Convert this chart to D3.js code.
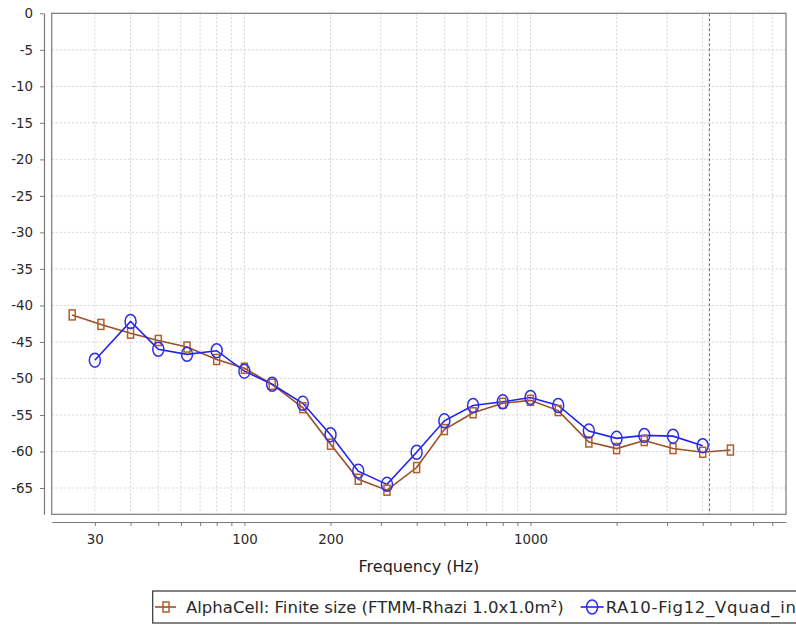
<!DOCTYPE html>
<html>
<head>
<meta charset="utf-8">
<script src="https://cdn.jsdelivr.net/npm/d3@7"></script>
<style>
  html, body { margin: 0; padding: 0; background: #fff; }
  svg { display: block; }
</style>
</head>
<body>
<svg id="chart" width="796" height="625"></svg>
<script>
// ---- data ----
const alphaFreq = [25, 31.5, 40, 50, 63, 80, 100, 125, 160, 200, 250, 315, 400, 500, 630, 800, 1000, 1250, 1600, 2000, 2500, 3150, 4000, 5000];
const alphaVals = [-41.3, -42.6, -43.8, -44.8, -45.7, -47.4, -48.6, -50.8, -54.0, -59.0, -63.8, -65.3, -62.2, -57.0, -54.7, -53.4, -53.0, -54.4, -58.7, -59.6, -58.5, -59.6, -60.1, -59.8];
const raFreq = [30, 40, 50, 63, 80, 100, 125, 160, 200, 250, 315, 400, 500, 630, 800, 1000, 1250, 1600, 2000, 2500, 3150, 4000];
const raVals = [-47.5, -42.2, -46.0, -46.7, -46.2, -49.0, -50.8, -53.4, -57.7, -62.7, -64.5, -60.1, -55.8, -53.7, -53.2, -52.6, -53.7, -57.2, -58.2, -57.8, -57.9, -59.2];
const seriesNames = ["AlphaCell: Finite size (FTMM-Rhazi 1.0x1.0m\u00B2)", "RA10-Fig12_Vquad_in"];
const xTickValues = [30, 40, 50, 60, 70, 80, 90, 100, 200, 300, 400, 500, 600, 700, 800, 900, 1000, 2000, 3000, 4000, 5000, 6000, 7000];
const xTickLabels = [30, 100, 200, 1000];
const yTickValues = [0, -5, -10, -15, -20, -25, -30, -35, -40, -45, -50, -55, -60, -65];
const markerFreq = 4220;
const xTitle = "Frequency (Hz)";

// ---- layout ----
const svg = d3.select("#chart");
const plot = { left: 51.7, right: 786, top: 13.3, bottom: 514.3 };
const x = d3.scaleLog().domain([21.2, 7820]).range([plot.left, plot.right]);
const y = d3.scaleLinear().domain([-68.6, 0]).range([plot.bottom, plot.top]);

const brown = "#9c4f26", brownMark = "#b35e28";
const blue = "#2222f0", blueMark = "#2e2ee6";
const fontFam = "'DejaVu Sans', Verdana, sans-serif";

svg.append("rect").attr("x", plot.left).attr("y", plot.top)
  .attr("width", plot.right - plot.left).attr("height", plot.bottom - plot.top)
  .attr("fill", "#fff");

// grid
const grid = svg.append("g").attr("stroke", "#d2d2d2").attr("stroke-width", 1).attr("stroke-dasharray", "2,2");
grid.selectAll("line.v").data(xTickValues).join("line")
  .attr("x1", d => x(d)).attr("x2", d => x(d)).attr("y1", plot.top).attr("y2", plot.bottom);
grid.selectAll("line.h").data(yTickValues).join("line")
  .attr("x1", plot.left).attr("x2", plot.right).attr("y1", d => y(d)).attr("y2", d => y(d));

// marker line
svg.append("line").attr("x1", x(markerFreq)).attr("x2", x(markerFreq))
  .attr("y1", plot.top).attr("y2", plot.bottom)
  .attr("stroke", "#5a5ad8").attr("stroke-width", 1).attr("stroke-dasharray", "3,2");

// plot outline
svg.append("rect").attr("x", plot.left).attr("y", plot.top)
  .attr("width", plot.right - plot.left).attr("height", plot.bottom - plot.top)
  .attr("fill", "none").attr("stroke", "#7a7a7a").attr("stroke-width", 1.2);

// axes
const xAxis = d3.axisBottom(x).tickValues(xTickValues)
  .tickFormat(d => xTickLabels.includes(d) ? String(d) : "")
  .tickSize(4).tickSizeOuter(0).tickPadding(8);
const gx = svg.append("g").attr("transform", "translate(0,522)").call(xAxis);
gx.select(".domain").attr("stroke", "#7a7a7a").attr("stroke-width", 1.2);
gx.selectAll(".tick line").attr("stroke", "#7a7a7a");
gx.selectAll("text").attr("font-family", fontFam).attr("font-size", "13.4px").attr("fill", "#2a2a2a");

const yAxis = d3.axisLeft(y).tickValues(yTickValues).tickFormat(d => String(d))
  .tickSize(4).tickSizeOuter(0).tickPadding(7);
const gy = svg.append("g").attr("transform", "translate(44,0)").call(yAxis);
gy.select(".domain").attr("stroke", "#7a7a7a").attr("stroke-width", 1.2);
gy.selectAll(".tick line").attr("stroke", "#7a7a7a");
gy.selectAll("text").attr("font-family", fontFam).attr("font-size", "13.4px").attr("fill", "#2a2a2a");

svg.append("text").attr("x", (plot.left + plot.right) / 2).attr("y", 572)
  .attr("text-anchor", "middle").attr("font-family", fontFam).attr("font-size", "16px")
  .attr("fill", "#222").text(xTitle);

// series
const line = d3.line().x(d => x(d[0])).y(d => y(d[1]));
const alphaData = alphaFreq.map((f, i) => [f, alphaVals[i]]);
const raData = raFreq.map((f, i) => [f, raVals[i]]);

svg.append("path").datum(alphaData).attr("d", line).attr("fill", "none")
  .attr("stroke", brown).attr("stroke-width", 1.6);
svg.append("path").datum(raData).attr("d", line).attr("fill", "none")
  .attr("stroke", blue).attr("stroke-width", 1.6);

svg.append("g").selectAll("rect").data(alphaData).join("rect")
  .attr("x", d => x(d[0]) - 3).attr("y", d => y(d[1]) - 5)
  .attr("width", 6).attr("height", 10)
  .attr("fill", "none").attr("stroke", brownMark).attr("stroke-width", 1.5);
svg.append("g").selectAll("ellipse").data(raData).join("ellipse")
  .attr("cx", d => x(d[0])).attr("cy", d => y(d[1]))
  .attr("rx", 5.5).attr("ry", 7)
  .attr("fill", "none").attr("stroke", blueMark).attr("stroke-width", 1.5);

// legend
const lg = svg.append("g");
lg.append("rect").attr("x", 152.7).attr("y", 591).attr("width", 700).attr("height", 32)
  .attr("fill", "#fff").attr("stroke", "#333").attr("stroke-width", 1.2);
const ly = 607;
lg.append("line").attr("x1", 155).attr("x2", 176).attr("y1", ly).attr("y2", ly)
  .attr("stroke", brown).attr("stroke-width", 1.6);
lg.append("rect").attr("x", 166 - 3).attr("y", ly - 5).attr("width", 6).attr("height", 10)
  .attr("fill", "none").attr("stroke", brownMark).attr("stroke-width", 1.5);
const t1 = lg.append("text").attr("x", 186).attr("y", ly + 6)
  .attr("font-family", fontFam).attr("font-size", "16.5px").attr("fill", "#2a2a2a").text(seriesNames[0]);
const t1end = 186 + t1.node().getComputedTextLength();
const s2 = t1end + 17;
lg.append("line").attr("x1", s2).attr("x2", s2 + 23).attr("y1", ly).attr("y2", ly)
  .attr("stroke", blue).attr("stroke-width", 1.6);
lg.append("ellipse").attr("cx", s2 + 11.5).attr("cy", ly).attr("rx", 5.5).attr("ry", 7)
  .attr("fill", "none").attr("stroke", blueMark).attr("stroke-width", 1.5);
lg.append("text").attr("x", s2 + 25).attr("y", ly + 6)
  .attr("font-family", fontFam).attr("font-size", "16.5px").attr("fill", "#2a2a2a")
  .attr("textLength", 796 - (s2 + 25)).attr("lengthAdjust", "spacing")
  .text(seriesNames[1]);
</script>
</body>
</html>
